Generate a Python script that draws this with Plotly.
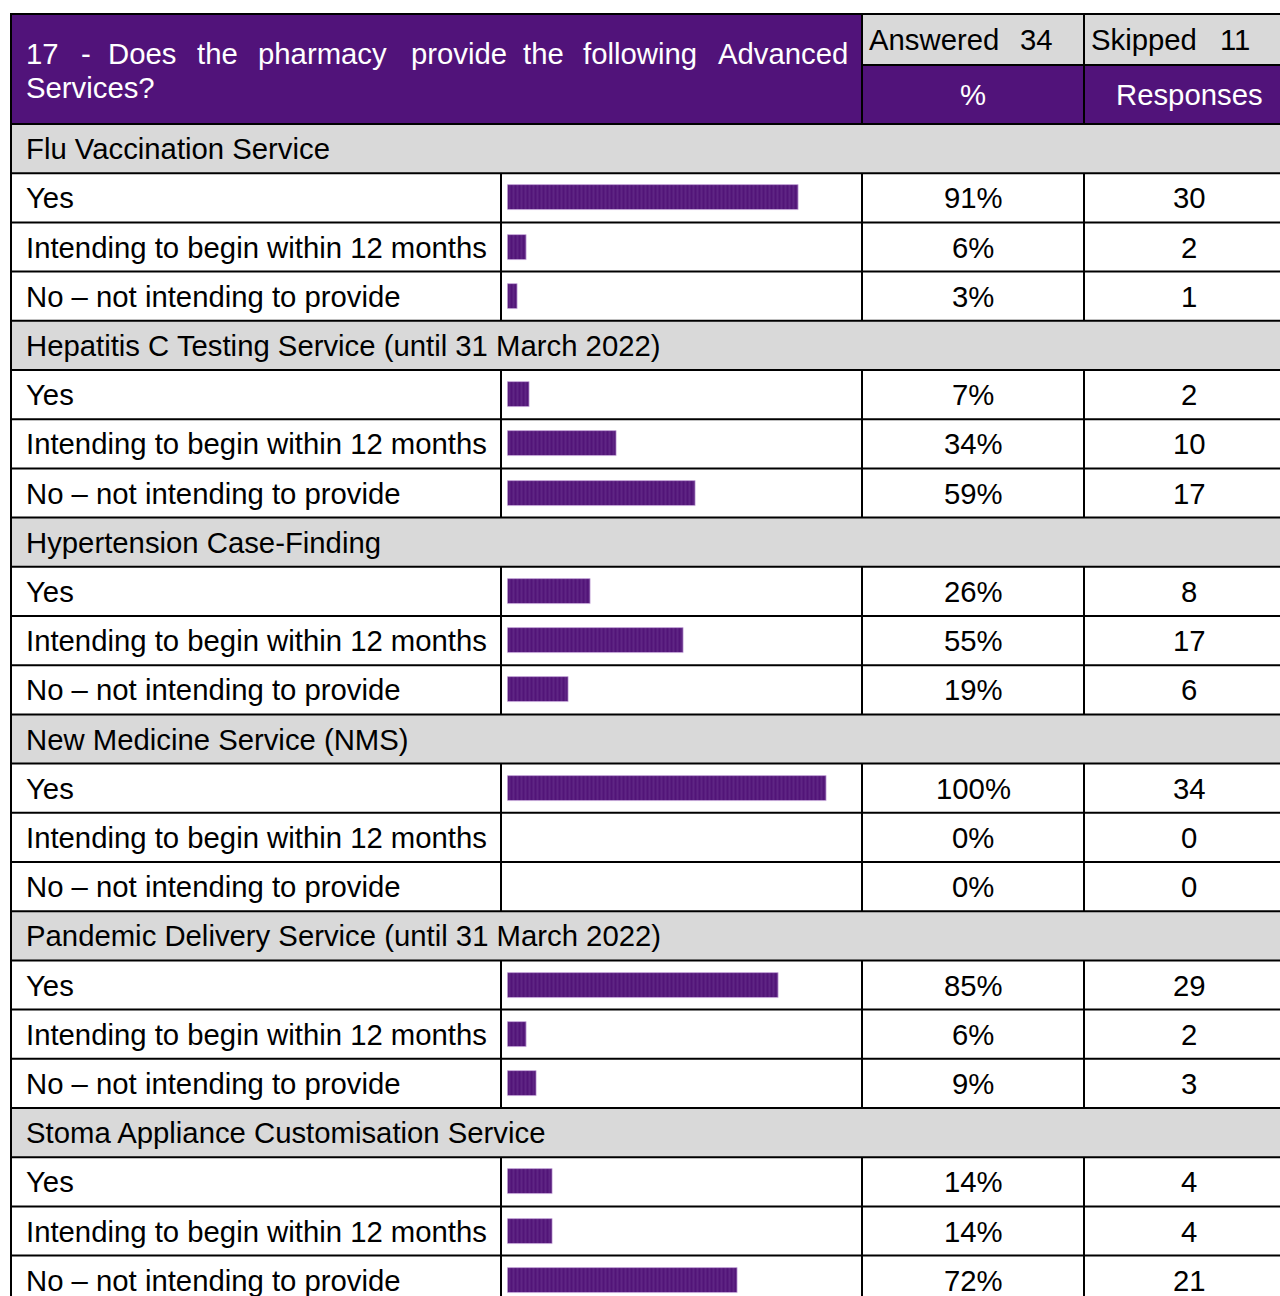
import plotly.graph_objects as go

# ---------------- data ----------------
sections = [
    "Flu Vaccination Service",
    "Hepatitis C Testing Service (until 31 March 2022)",
    "Hypertension Case-Finding",
    "New Medicine Service (NMS)",
    "Pandemic Delivery Service (until 31 March 2022)",
    "Stoma Appliance Customisation Service",
]
options = ["Yes", "Intending to begin within 12 months", "No \u2013 not intending to provide"]
pct = [
    [91, 6, 3],
    [7, 34, 59],
    [26, 55, 19],
    [100, 0, 0],
    [85, 6, 9],
    [14, 14, 72],
]
responses = [
    [30, 2, 1],
    [2, 10, 17],
    [8, 17, 6],
    [34, 0, 0],
    [29, 2, 3],
    [4, 4, 21],
]
question_words = ["17", "-", "Does", "the", "pharmacy", "provide", "the", "following", "Advanced"]
question_line2 = "Services?"
answered = 34
skipped = 11

# ---------------- layout constants ----------------
W, H = 1280, 1296
ROW = 49.2           # px per row
TOP = 14             # table top px
HDR_BOTTOM = 124     # header bottom px
SPLIT = 65           # answered / % split px
X_L, X_BAR, X_PCT, X_RESP, X_R = 11, 501, 862, 1084, 1296
BAR_X0, BAR_X100 = 507.5, 826.9
PURPLE = "#51137A"
GREY = "#D9D9D9"
FONT = "Liberation Sans, Arial, sans-serif"
FS = 29.3
TX = 24

def py(p):  # pixel -> row units
    return (p - HDR_BOTTOM) / ROW

word_x = [24, 79, 106, 195, 256, 409, 521, 581, 716]

fig = go.Figure()

# bars
bar_y, bar_v = [], []
r = 0
for s in range(len(sections)):
    r += 1
    for k in range(3):
        bar_y.append(r + 0.5)
        bar_v.append(pct[s][k])
        r += 1

fig.add_trace(go.Bar(
    x=bar_v, y=bar_y, orientation="h", xaxis="x2", yaxis="y",
    width=25 / ROW,
    marker=dict(
        color=PURPLE,
        line=dict(width=[0.8 if v > 0 else 0 for v in bar_v], color="rgba(205,175,225,0.9)"),
        pattern=dict(shape="|", size=4, solidity=0.25, fgcolor="#8656A6", bgcolor="#521478", fillmode="overlay"),
    ),
    hoverinfo="skip", showlegend=False,
))

shapes = []
ann = []

def rect(x0, x1, y0, y1, color):
    shapes.append(dict(type="rect", xref="x", yref="y", x0=x0, x1=x1, y0=y0, y1=y1,
                       fillcolor=color, line=dict(width=0), layer="below"))

def line(x0, x1, y0, y1, w=2):
    shapes.append(dict(type="line", xref="x", yref="y", x0=x0, x1=x1, y0=y0, y1=y1,
                       line=dict(color="black", width=w), layer="above"))

def text(x, y, t, color="black", anchor="left", size=FS):
    ann.append(dict(xref="x", yref="y", x=x, y=y, text=t, showarrow=False,
                    xanchor=anchor, yanchor="middle",
                    font=dict(family=FONT, size=size, color=color)))

yt, ys, yb = py(TOP), py(SPLIT), 0
# header fills
rect(X_L, X_PCT, yt, yb, PURPLE)
rect(X_PCT, X_R, ys, yb, PURPLE)
rect(X_PCT, X_R, yt, ys, GREY)

# header text
for w_, x_ in zip(question_words, word_x):
    text(x_, py(53), w_, color="white")
text(TX, py(87), question_line2, color="white")
text(867, py(39.5), "Answered", anchor="left")
text(1018, py(39.5), str(answered), anchor="left")
text(1089, py(39.5), "Skipped", anchor="left")
text(1218, py(39.5), str(skipped), anchor="left")
PCT_C = 973
RESP_C = 1189
text(PCT_C, py(94.5), "%", color="white", anchor="center")
text(RESP_C, py(94.5), "Responses", color="white", anchor="center")

# header lines
line(X_L - 1, X_R, yt, yt)
line(X_PCT, X_R, ys, ys)
line(X_PCT, X_PCT, yt, yb)
line(X_RESP, X_RESP, yt, yb)

r = 0
for s, name in enumerate(sections):
    rect(X_L, X_R, r, r + 1, GREY)
    text(TX, r + 0.5, name)
    line(X_L, X_R, r, r)
    r += 1
    for k, opt in enumerate(options):
        line(X_L, X_R, r, r)
        for xv in (X_BAR, X_PCT, X_RESP):
            line(xv, xv, r, r + 1)
        text(TX, r + 0.5, opt)
        text(PCT_C, r + 0.5, f"{pct[s][k]}%", anchor="center")
        text(RESP_C, r + 0.5, str(responses[s][k]), anchor="center")
        r += 1
line(X_L, X_R, r, r)
line(X_L, X_L, yt, r)

fig.update_layout(
    width=W, height=H,
    margin=dict(l=0, r=0, t=0, b=0),
    paper_bgcolor="white", plot_bgcolor="rgba(0,0,0,0)",
    xaxis=dict(range=[0, W], domain=[0, 1], visible=False, fixedrange=True),
    xaxis2=dict(range=[0, 100], domain=[BAR_X0 / W, BAR_X100 / W],
                anchor="y", visible=False, fixedrange=True),
    yaxis=dict(range=[py(H), py(0)], domain=[0, 1], visible=False, fixedrange=True),
    shapes=shapes, annotations=ann,
    bargap=0,
)

fig.write_html("out.html", config={"displayModeBar": False},
               post_script="document.body.style.margin='0';document.body.style.overflow='hidden';")
